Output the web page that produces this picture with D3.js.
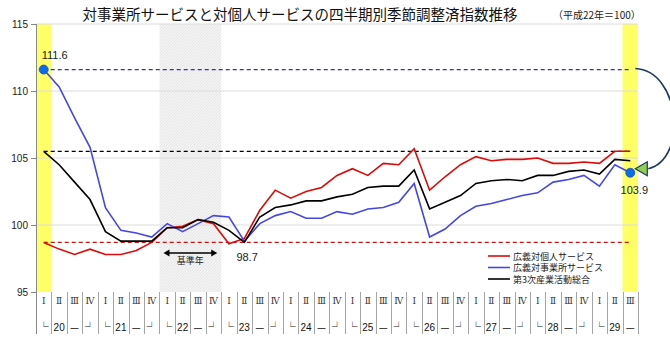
<!DOCTYPE html>
<html>
<head>
<meta charset="utf-8">
<script src="https://cdn.jsdelivr.net/npm/d3@7"></script>
<style>
  html, body { margin: 0; padding: 0; background: #fff; }
  svg { display: block; font-family: "Noto Sans CJK JP", "Noto Sans", sans-serif; }
</style>
</head>
<body>
<svg id="chart" width="670" height="342"></svg>
<script>
// 四半期（平成20年Ⅰ期～29年Ⅲ期）
const years = ["20", "21", "22", "23", "24", "25", "26", "27", "28", "29"];
const quarterNames = ["Ⅰ", "Ⅱ", "Ⅲ", "Ⅳ"];
const yearMarks = ["└", "", "—", "┘"];   // 年ラベルの区切り記号（Ⅱ期に年を置く）

// 季節調整済指数（平成22年＝100）
const kojin = [98.7, 98.2, 97.8, 98.2, 97.8, 97.8, 98.1, 98.7, 99.8, 99.9, 100.4, 100.1, 98.6, 99.0,
  101.1, 102.6, 102.0, 102.5, 102.8, 103.7, 104.2, 103.7, 104.6, 104.5, 105.7, 102.6, 103.6, 104.5,
  105.1, 104.8, 104.9, 104.9, 105.0, 104.6, 104.6, 104.7, 104.6, 105.5, 105.5];
const jigyosho = [111.6, 110.3, 108.0, 105.8, 101.3, 99.6, 99.4, 99.1, 100.1, 99.5, 100.1, 100.7, 100.6, 98.8,
  100.1, 100.7, 101.0, 100.5, 100.5, 101.0, 100.8, 101.2, 101.3, 101.7, 103.1, 99.1, 99.7, 100.7,
  101.4, 101.6, 101.9, 102.2, 102.4, 103.2, 103.4, 103.7, 102.9, 104.5, 103.9];
const sogo = [105.5, 104.5, 103.2, 101.9, 99.5, 98.8, 98.8, 98.8, 99.8, 99.8, 100.4, 100.2, 99.6, 98.7,
  100.6, 101.3, 101.5, 101.8, 101.8, 102.1, 102.3, 102.8, 102.9, 102.9, 104.1, 101.2, 101.7, 102.2,
  103.1, 103.3, 103.4, 103.3, 103.7, 103.7, 104.0, 104.1, 103.8, 104.9, 104.8];

const seriesNames = ["広義対個人サービス", "広義対事業所サービス", "第3次産業活動総合"];
const yTicks = [95, 100, 105, 110, 115];
const baseYear = "22";
const lowLabel = 98.7;

// 系列定義
const series = [
  { name: seriesNames[0], values: kojin, color: "#dd0a0a", dash: "#d01010" },
  { name: seriesNames[1], values: jigyosho, color: "#4646e6", dash: "#3232c8" },
  { name: seriesNames[2], values: sogo, color: "#000000", dash: "#000000" }
];

// 四半期のラベル
const periods = [];
years.forEach((y, yi) => {
  const n = y === "29" ? 3 : 4;
  for (let q = 0; q < n; q++) periods.push({ year: y, q });
});

const svg = d3.select("#chart");
const plot = { left: 36, right: 638, top: 24, bottom: 292 };

const x = d3.scaleBand().domain(d3.range(periods.length)).range([plot.left, plot.right]).padding(0);
const y = d3.scaleLinear().domain([95, 115]).range([plot.bottom, plot.top]);
const cx = i => x(i) + x.bandwidth() / 2;

// 網掛けパターン（基準年）
const defs = svg.append("defs");
const pat = defs.append("pattern").attr("id", "hatch").attr("patternUnits", "userSpaceOnUse")
  .attr("width", 3).attr("height", 3);
pat.append("rect").attr("width", 3).attr("height", 3).attr("fill", "#f3f3f3");
pat.append("path").attr("d", "M0,3 L3,0").attr("stroke", "#e2e2e2").attr("stroke-width", 0.8);

// タイトル
svg.append("text").attr("x", 300).attr("y", 20).attr("text-anchor", "middle")
  .attr("font-size", 14.5).attr("fill", "#111")
  .text("対事業所サービスと対個人サービスの四半期別季節調整済指数推移");
svg.append("text").attr("x", 553).attr("y", 19).attr("font-size", 10).attr("fill", "#222")
  .text("（平成22年＝100）");

// 基準年の網掛け
const baseIdx = periods.map((p, i) => p.year === baseYear ? i : -1).filter(i => i >= 0);
svg.append("rect")
  .attr("x", x(baseIdx[0])).attr("y", plot.top)
  .attr("width", x.bandwidth() * baseIdx.length).attr("height", plot.bottom - plot.top)
  .attr("fill", "url(#hatch)");

// 最初と最新の期の強調（黄色）
[0, periods.length - 1].forEach(i => {
  svg.append("rect").attr("x", x(i)).attr("y", plot.top)
    .attr("width", x.bandwidth()).attr("height", plot.bottom - plot.top)
    .attr("fill", "#ffff66");
});

// 目盛線
svg.append("g").selectAll("line").data(yTicks.filter(t => t > 95)).join("line")
  .attr("x1", plot.left).attr("x2", plot.right)
  .attr("y1", d => y(d)).attr("y2", d => y(d))
  .attr("stroke", "#dcdcdc").attr("stroke-width", 1);

// Y軸
const yAxis = svg.append("g").attr("transform", `translate(${plot.left},0)`)
  .call(d3.axisLeft(y).tickValues(yTicks).tickSize(5).tickPadding(3).tickFormat(d3.format("d")));
yAxis.select(".domain").remove();
yAxis.selectAll(".tick line").attr("stroke", "#888");
yAxis.selectAll(".tick text").attr("font-size", 10).attr("fill", "#222")
  .attr("font-family", "'Liberation Sans', Arial, sans-serif");
svg.append("line").attr("x1", plot.left + 0.5).attr("x2", plot.left + 0.5)
  .attr("y1", plot.top).attr("y2", 334).attr("stroke", "#888");

// X軸：区切り線と四半期・年ラベル
const bounds = d3.range(1, periods.length + 1).map(i => i < periods.length ? x(i) : plot.right);
svg.append("g").selectAll("line").data(bounds).join("line")
  .attr("x1", d => Math.round(d) + 0.5).attr("x2", d => Math.round(d) + 0.5)
  .attr("y1", plot.bottom).attr("y2", 334)
  .attr("stroke", "#a6a6a6").attr("stroke-width", 1);

svg.append("g").selectAll("text").data(periods).join("text")
  .attr("x", (d, i) => cx(i)).attr("y", 304).attr("text-anchor", "middle")
  .attr("font-size", 9).attr("fill", "#333")
  .attr("font-family", "'DejaVu Serif', serif")
  .text(d => quarterNames[d.q]);

svg.append("g").selectAll("text").data(periods).join("text")
  .attr("x", (d, i) => cx(i)).attr("y", 331).attr("text-anchor", "middle")
  .attr("font-size", 10).attr("fill", "#111")
  .attr("font-family", (d) => d.q === 1 ? "'Liberation Sans', Arial, sans-serif" : "'Noto Sans CJK JP', sans-serif")
  .text(d => d.q === 1 ? d.year : yearMarks[d.q]);

// 始点の水準線（破線）
const last = periods.length - 1;
series.forEach(s => {
  svg.append("line")
    .attr("x1", cx(0)).attr("x2", cx(last))
    .attr("y1", y(s.values[0])).attr("y2", y(s.values[0]))
    .attr("stroke", s.dash).attr("stroke-width", 1.3).attr("stroke-dasharray", "4,3");
});

// 系列の折れ線
const line = d3.line().x((d, i) => cx(i)).y(d => y(d));
series.forEach(s => {
  svg.append("path").datum(s.values).attr("d", line)
    .attr("fill", "none").attr("stroke", s.color).attr("stroke-width", 1.6)
    .attr("stroke-linejoin", "miter");
});

// 対事業所サービスの始点・終点
const firstV = jigyosho[0], lastV = jigyosho[last];
[[0, firstV], [last, lastV]].forEach(([i, v]) => {
  svg.append("circle").attr("cx", cx(i)).attr("cy", y(v)).attr("r", 4.5)
    .attr("fill", "#0a6cf0").attr("stroke", "#1a4fb0").attr("stroke-width", 0.8);
});
svg.append("text").attr("x", cx(0) - 2).attr("y", y(firstV) - 11)
  .attr("font-size", 11).attr("fill", "#222").attr("font-family", "'Liberation Sans', Arial, sans-serif")
  .text(d3.format(".1f")(firstV));
svg.append("text").attr("x", cx(last) + 4).attr("y", y(lastV) + 21).attr("text-anchor", "middle")
  .attr("font-size", 11).attr("fill", "#222").attr("font-family", "'Liberation Sans', Arial, sans-serif")
  .text(d3.format(".1f")(lastV));

// 最低水準の値
svg.append("text").attr("x", cx(13) - 8).attr("y", y(lowLabel) + 19)
  .attr("font-size", 11).attr("fill", "#222").attr("font-family", "'Liberation Sans', Arial, sans-serif")
  .text(d3.format(".1f")(lowLabel));

// 基準年の両矢印
const ax1 = x(baseIdx[0]) + 4, ax2 = x(baseIdx[baseIdx.length - 1]) + x.bandwidth() - 4, ay = 253;
svg.append("line").attr("x1", ax1 + 3).attr("x2", ax2 - 3).attr("y1", ay).attr("y2", ay)
  .attr("stroke", "#000").attr("stroke-width", 1.6);
svg.append("path").attr("d", `M${ax1},${ay} l6,-3.5 l0,7 Z M${ax2},${ay} l-6,-3.5 l0,7 Z`).attr("fill", "#000");
svg.append("text").attr("x", (ax1 + ax2) / 2).attr("y", 264).attr("text-anchor", "middle")
  .attr("font-size", 9).attr("fill", "#222").text("基準年");

// 凡例
const lg = svg.append("g").attr("transform", "translate(488,256)");
series.forEach((s, i) => {
  lg.append("line").attr("x1", 0).attr("x2", 22).attr("y1", i * 11.5).attr("y2", i * 11.5)
    .attr("stroke", s.color).attr("stroke-width", 1.6);
  lg.append("text").attr("x", 25).attr("y", i * 11.5 + 3.5).attr("font-size", 9).attr("fill", "#222")
    .text(s.name);
});

// 始点から終点への曲線矢印
const sx = cx(last) + 5, sy = y(firstV) - 1;
const ex = cx(last) + 16, ey = y(lastV) - 4;
svg.append("path")
  .attr("d", `M${sx},${sy} C${sx + 45},${sy + 2} ${ex + 42},${ey - 10} ${ex + 2},${ey}`)
  .attr("fill", "none").attr("stroke", "#1f3a60").attr("stroke-width", 1.6);
svg.append("path")
  .attr("d", `M${ex - 11},${ey} L${ex + 1},${ey - 7} L${ex + 1},${ey + 7} Z`)
  .attr("fill", "#8fd14f").attr("stroke", "#1f3a60").attr("stroke-width", 1.2);
</script>
</body>
</html>
